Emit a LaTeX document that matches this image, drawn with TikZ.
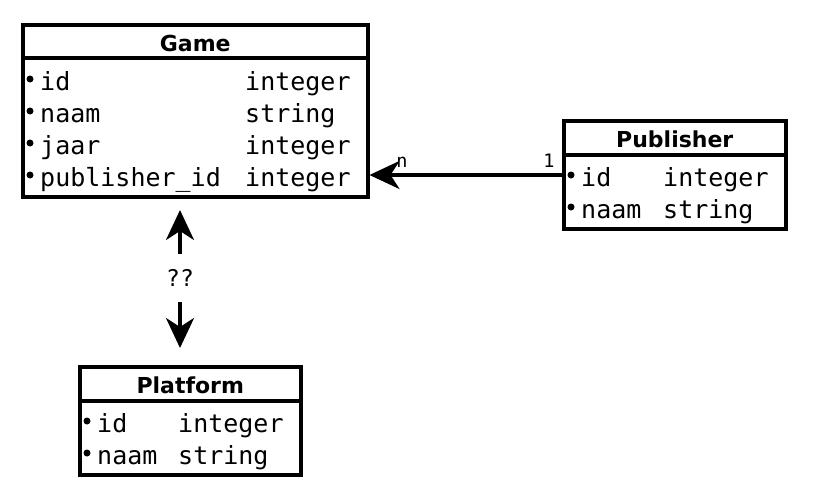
\documentclass[tikz,border=0pt]{standalone}
\usepackage{fontspec}
\setmonofont{DejaVu Sans Mono}
\newfontfamily\headfont{DejaVu Sans}
\usetikzlibrary{positioning, arrows.meta, calc}

\tikzset{
  tablebox/.style={draw, line width=3.5pt, inner sep=0pt, anchor=north west},
  headtext/.style={font=\headfont\bfseries\fontsize{22}{26}\selectfont, anchor=base, inner sep=0pt},
  fieldtext/.style={font=\ttfamily\fontsize{25}{30}\selectfont, anchor=base west, inner sep=0pt},
  bullet/.style={circle, fill, inner sep=0pt, minimum size=7pt},
  rel/.style={line width=3.5pt, -{Stealth[length=30pt, width=28pt, inset=9pt]}},
  mult/.style={font=\ttfamily\fontsize{18.5}{22}\selectfont, anchor=base, inner sep=0pt},
}

\begin{document}
\begin{tikzpicture}[x=1pt, y=-1pt]
  \useasboundingbox (0,0) rectangle (816,499);

  % Game
  \node[tablebox, minimum width=345pt, minimum height=172pt] (game) at (21,23) {};
  \draw[line width=3.5pt] ($(game.north west)+(0,35)$) -- ($(game.north east)+(0,35)$);
  \node[headtext] (game-title) at ($(game.north)+(0,28)$) {Game};
  \foreach \name/\type [count=\i] in {id/integer, naam/string, jaar/integer, publisher\_id/integer} {
    \coordinate (game-row\i) at ($(game.north west)+(0,67+32*\i-32)$);
    \node[bullet] at ($(game-row\i)+(9,-11)$) {};
    \node[fieldtext] (game-name\i) at ($(game-row\i)+(19,0)$) {\name};
    \node[fieldtext] (game-type\i) at ($(game-row\i)+(224,0)$) {\type};
  }

  % Publisher
  \node[tablebox, minimum width=222pt, minimum height=108pt] (publisher) at (562,119) {};
  \draw[line width=3.5pt] ($(publisher.north west)+(0,36)$) -- ($(publisher.north east)+(0,36)$);
  \node[headtext] (publisher-title) at ($(publisher.north)+(0,28)$) {Publisher};
  \foreach \name/\type [count=\i] in {id/integer, naam/string} {
    \coordinate (publisher-row\i) at ($(publisher.north west)+(0,67+32*\i-32)$);
    \node[bullet] at ($(publisher-row\i)+(9,-11)$) {};
    \node[fieldtext] (publisher-name\i) at ($(publisher-row\i)+(19,0)$) {\name};
    \node[fieldtext] (publisher-type\i) at ($(publisher-row\i)+(101,0)$) {\type};
  }

  % Platform
  \node[tablebox, minimum width=221pt, minimum height=108pt] (platform) at (78,365) {};
  \draw[line width=3.5pt] ($(platform.north west)+(0,36)$) -- ($(platform.north east)+(0,36)$);
  \node[headtext] (platform-title) at ($(platform.north)+(0,28)$) {Platform};
  \foreach \name/\type [count=\i] in {id/integer, naam/string} {
    \coordinate (platform-row\i) at ($(platform.north west)+(0,67+32*\i-32)$);
    \node[bullet] at ($(platform-row\i)+(9,-11)$) {};
    \node[fieldtext] (platform-name\i) at ($(platform-row\i)+(19,0)$) {\name};
    \node[fieldtext] (platform-type\i) at ($(platform-row\i)+(100,0)$) {\type};
  }

  % publisher -> game
  \coordinate (publisher-link) at ($(publisher.north west)+(0,56)$);
  \draw[rel] (publisher-link) -- (publisher-link -| game.east);
  \node[mult] (mult-n) at (402,167) {n};
  \node[mult] (mult-1) at (549,167) {1};

  % game <-> platform
  \node[font=\ttfamily\fontsize{23}{27}\selectfont, minimum height=48pt, inner sep=0pt] (card) at (180,278) {??};
  \coordinate (game-end) at (180,210);
  \coordinate (platform-end) at (180,348);
  \draw[rel] (card.north) -- (game-end);
  \draw[rel] (card.south) -- (platform-end);
\end{tikzpicture}
\end{document}
